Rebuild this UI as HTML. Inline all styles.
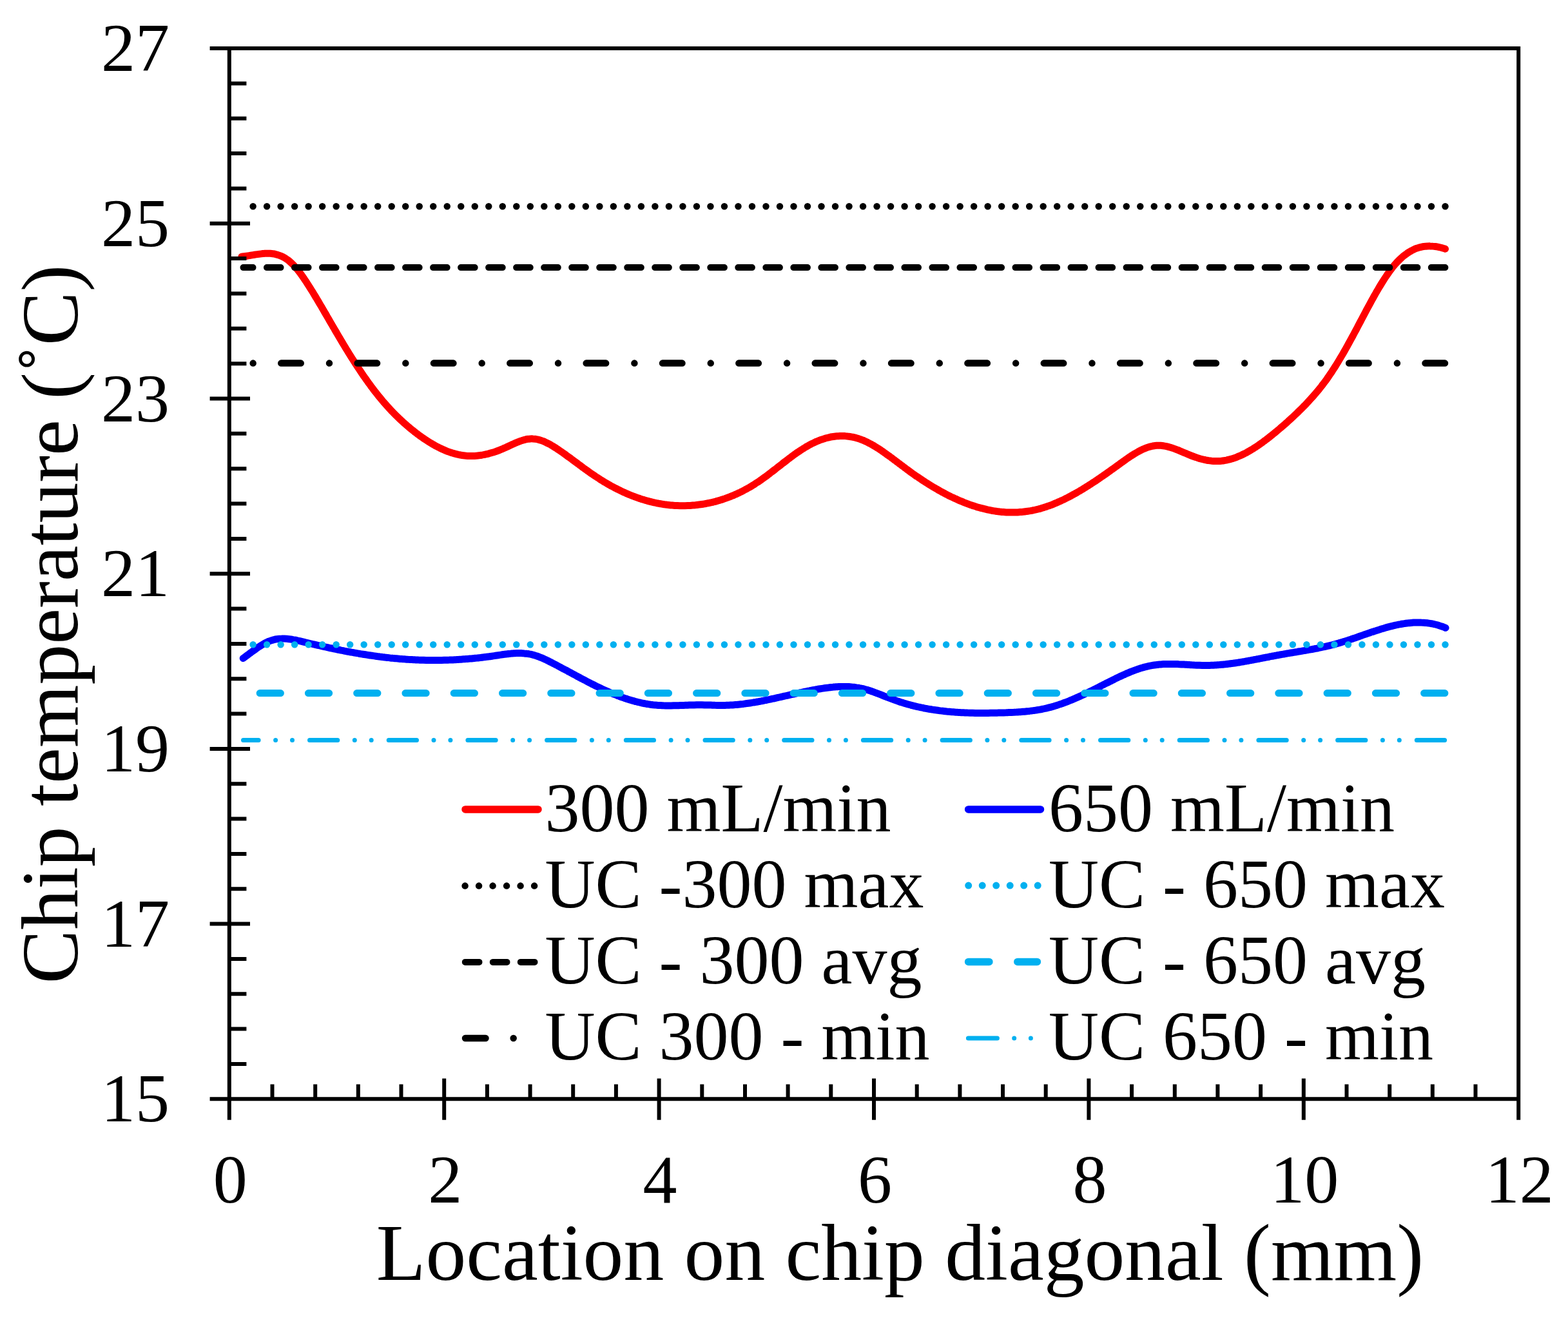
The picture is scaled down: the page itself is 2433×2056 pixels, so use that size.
<!DOCTYPE html><html><head><meta charset="utf-8"><style>html,body{margin:0;padding:0;background:#fff;}svg{display:block;}text{font-family:"Liberation Serif","Times New Roman",serif;fill:#000;}</style></head><body>
<svg width="2433" height="2056" viewBox="0 0 2433 2056">
<rect width="2433" height="2056" fill="#fff"/>
<path d="M375.0,398.1 C375.7,398.0 377.7,397.9 379.0,397.7 C380.3,397.6 381.7,397.4 383.0,397.2 C384.3,397.0 385.7,396.8 387.0,396.6 C388.3,396.4 389.7,396.2 391.0,395.9 C392.3,395.7 393.7,395.5 395.0,395.3 C396.3,395.1 397.7,394.8 399.0,394.6 C400.3,394.4 401.7,394.3 403.0,394.1 C404.3,393.9 405.7,393.8 407.0,393.6 C408.3,393.5 409.7,393.4 411.0,393.3 C412.3,393.3 413.7,393.2 415.0,393.2 C416.3,393.2 417.7,393.2 419.0,393.3 C420.3,393.4 421.7,393.5 423.0,393.7 C424.3,393.9 425.7,394.1 427.0,394.4 C428.3,394.7 429.7,395.0 431.0,395.4 C432.3,395.8 433.7,396.3 435.0,396.8 C436.3,397.3 437.7,397.9 439.0,398.6 C440.3,399.3 441.7,400.1 443.0,400.9 C444.3,401.8 445.7,402.7 447.0,403.7 C448.3,404.7 449.7,405.9 451.0,407.1 C452.3,408.3 453.7,409.6 455.0,410.9 C456.3,412.3 457.7,413.8 459.0,415.4 C460.3,416.9 461.7,418.5 463.0,420.2 C464.3,421.9 465.7,423.7 467.0,425.5 C468.3,427.3 469.7,429.2 471.0,431.2 C472.3,433.1 473.7,435.1 475.0,437.1 C476.3,439.1 477.7,441.2 479.0,443.3 C480.3,445.4 481.7,447.5 483.0,449.7 C484.3,451.8 485.7,454.0 487.0,456.2 C488.3,458.4 489.7,460.6 491.0,462.8 C492.3,465.1 493.7,467.3 495.0,469.6 C496.3,471.8 497.7,474.1 499.0,476.3 C500.3,478.6 501.7,480.9 503.0,483.2 C504.3,485.5 505.7,487.8 507.0,490.1 C508.3,492.4 509.7,494.7 511.0,497.0 C512.3,499.3 513.7,501.6 515.0,503.9 C516.3,506.2 517.7,508.5 519.0,510.7 C520.3,513.0 521.7,515.3 523.0,517.6 C524.3,519.9 525.7,522.1 527.0,524.4 C528.3,526.6 529.7,528.9 531.0,531.1 C532.3,533.3 533.7,535.6 535.0,537.8 C536.3,540.0 537.7,542.1 539.0,544.3 C540.3,546.5 541.7,548.6 543.0,550.8 C544.3,552.9 545.7,555.0 547.0,557.1 C548.3,559.2 549.7,561.3 551.0,563.4 C552.3,565.4 553.7,567.5 555.0,569.5 C556.3,571.5 557.7,573.5 559.0,575.5 C560.3,577.5 561.7,579.5 563.0,581.4 C564.3,583.4 565.7,585.3 567.0,587.2 C568.3,589.1 569.7,591.0 571.0,592.8 C572.3,594.7 573.7,596.5 575.0,598.3 C576.3,600.2 577.7,601.9 579.0,603.7 C580.3,605.5 581.7,607.2 583.0,608.9 C584.3,610.6 585.7,612.3 587.0,614.0 C588.3,615.6 589.7,617.2 591.0,618.8 C592.3,620.4 593.7,622.0 595.0,623.6 C596.3,625.1 597.7,626.7 599.0,628.2 C600.3,629.7 601.7,631.2 603.0,632.6 C604.3,634.1 605.7,635.5 607.0,636.9 C608.3,638.3 609.7,639.7 611.0,641.1 C612.3,642.4 613.7,643.8 615.0,645.1 C616.3,646.4 617.7,647.7 619.0,649.0 C620.3,650.2 621.7,651.5 623.0,652.7 C624.3,654.0 625.7,655.2 627.0,656.4 C628.3,657.6 629.7,658.7 631.0,659.9 C632.3,661.0 633.7,662.2 635.0,663.3 C636.3,664.4 637.7,665.5 639.0,666.6 C640.3,667.7 641.7,668.7 643.0,669.8 C644.3,670.8 645.7,671.8 647.0,672.8 C648.3,673.8 649.7,674.8 651.0,675.8 C652.3,676.8 653.7,677.7 655.0,678.7 C656.3,679.6 657.7,680.5 659.0,681.4 C660.3,682.3 661.7,683.2 663.0,684.1 C664.3,684.9 665.7,685.8 667.0,686.6 C668.3,687.4 669.7,688.2 671.0,689.0 C672.3,689.8 673.7,690.5 675.0,691.3 C676.3,692.0 677.7,692.7 679.0,693.4 C680.3,694.1 681.7,694.8 683.0,695.4 C684.3,696.1 685.7,696.7 687.0,697.3 C688.3,697.9 689.7,698.5 691.0,699.0 C692.3,699.6 693.7,700.1 695.0,700.6 C696.3,701.1 697.7,701.6 699.0,702.0 C700.3,702.5 701.7,702.9 703.0,703.3 C704.3,703.7 705.7,704.1 707.0,704.4 C708.3,704.7 709.7,705.1 711.0,705.4 C712.3,705.6 713.7,705.9 715.0,706.1 C716.3,706.4 717.7,706.6 719.0,706.7 C720.3,706.9 721.7,707.1 723.0,707.2 C724.3,707.3 725.7,707.4 727.0,707.4 C728.3,707.5 729.7,707.5 731.0,707.5 C732.3,707.5 733.7,707.5 735.0,707.4 C736.3,707.4 737.7,707.3 739.0,707.2 C740.3,707.1 741.7,707.0 743.0,706.8 C744.3,706.6 745.7,706.5 747.0,706.3 C748.3,706.0 749.7,705.8 751.0,705.6 C752.3,705.3 753.7,705.0 755.0,704.7 C756.3,704.4 757.7,704.1 759.0,703.7 C760.3,703.4 761.7,703.0 763.0,702.6 C764.3,702.2 765.7,701.8 767.0,701.4 C768.3,700.9 769.7,700.5 771.0,700.0 C772.3,699.5 773.7,699.0 775.0,698.5 C776.3,698.0 777.7,697.4 779.0,696.9 C780.3,696.3 781.7,695.7 783.0,695.1 C784.3,694.5 785.7,693.9 787.0,693.3 C788.3,692.7 789.7,692.1 791.0,691.4 C792.3,690.8 793.7,690.2 795.0,689.6 C796.3,689.0 797.7,688.4 799.0,687.8 C800.3,687.2 801.7,686.6 803.0,686.1 C804.3,685.5 805.7,685.0 807.0,684.5 C808.3,684.1 809.7,683.6 811.0,683.2 C812.3,682.8 813.7,682.4 815.0,682.1 C816.3,681.8 817.7,681.5 819.0,681.3 C820.3,681.1 821.7,681.0 823.0,680.9 C824.3,680.8 825.7,680.8 827.0,680.9 C828.3,680.9 829.7,681.1 831.0,681.3 C832.3,681.5 833.7,681.7 835.0,682.1 C836.3,682.4 837.7,682.8 839.0,683.2 C840.3,683.6 841.7,684.1 843.0,684.6 C844.3,685.2 845.7,685.8 847.0,686.4 C848.3,687.0 849.7,687.7 851.0,688.4 C852.3,689.1 853.7,689.8 855.0,690.6 C856.3,691.4 857.7,692.2 859.0,693.0 C860.3,693.8 861.7,694.7 863.0,695.5 C864.3,696.4 865.7,697.3 867.0,698.2 C868.3,699.1 869.7,700.0 871.0,701.0 C872.3,701.9 873.7,702.8 875.0,703.8 C876.3,704.7 877.7,705.7 879.0,706.7 C880.3,707.6 881.7,708.6 883.0,709.6 C884.3,710.5 885.7,711.5 887.0,712.5 C888.3,713.5 889.7,714.5 891.0,715.5 C892.3,716.4 893.7,717.4 895.0,718.4 C896.3,719.4 897.7,720.4 899.0,721.4 C900.3,722.4 901.7,723.3 903.0,724.3 C904.3,725.3 905.7,726.3 907.0,727.3 C908.3,728.2 909.7,729.2 911.0,730.1 C912.3,731.1 913.7,732.0 915.0,733.0 C916.3,733.9 917.7,734.9 919.0,735.8 C920.3,736.7 921.7,737.6 923.0,738.5 C924.3,739.4 925.7,740.3 927.0,741.1 C928.3,742.0 929.7,742.9 931.0,743.7 C932.3,744.6 933.7,745.4 935.0,746.2 C936.3,747.0 937.7,747.8 939.0,748.6 C940.3,749.4 941.7,750.2 943.0,751.0 C944.3,751.8 945.7,752.5 947.0,753.3 C948.3,754.0 949.7,754.7 951.0,755.4 C952.3,756.2 953.7,756.9 955.0,757.6 C956.3,758.2 957.7,758.9 959.0,759.6 C960.3,760.2 961.7,760.9 963.0,761.5 C964.3,762.2 965.7,762.8 967.0,763.4 C968.3,764.0 969.7,764.6 971.0,765.2 C972.3,765.8 973.7,766.4 975.0,766.9 C976.3,767.5 977.7,768.0 979.0,768.6 C980.3,769.1 981.7,769.6 983.0,770.1 C984.3,770.7 985.7,771.2 987.0,771.6 C988.3,772.1 989.7,772.6 991.0,773.0 C992.3,773.5 993.7,773.9 995.0,774.4 C996.3,774.8 997.7,775.2 999.0,775.6 C1000.3,776.0 1001.7,776.4 1003.0,776.8 C1004.3,777.2 1005.7,777.5 1007.0,777.9 C1008.3,778.2 1009.7,778.6 1011.0,778.9 C1012.3,779.2 1013.7,779.5 1015.0,779.8 C1016.3,780.1 1017.7,780.4 1019.0,780.7 C1020.3,780.9 1021.7,781.2 1023.0,781.5 C1024.3,781.7 1025.7,781.9 1027.0,782.1 C1028.3,782.4 1029.7,782.6 1031.0,782.8 C1032.3,782.9 1033.7,783.1 1035.0,783.3 C1036.3,783.4 1037.7,783.6 1039.0,783.7 C1040.3,783.9 1041.7,784.0 1043.0,784.1 C1044.3,784.2 1045.7,784.3 1047.0,784.4 C1048.3,784.5 1049.7,784.5 1051.0,784.6 C1052.3,784.7 1053.7,784.7 1055.0,784.7 C1056.3,784.8 1057.7,784.8 1059.0,784.8 C1060.3,784.8 1061.7,784.8 1063.0,784.7 C1064.3,784.7 1065.7,784.7 1067.0,784.6 C1068.3,784.6 1069.7,784.5 1071.0,784.4 C1072.3,784.3 1073.7,784.2 1075.0,784.1 C1076.3,784.0 1077.7,783.9 1079.0,783.8 C1080.3,783.6 1081.7,783.5 1083.0,783.3 C1084.3,783.2 1085.7,783.0 1087.0,782.8 C1088.3,782.6 1089.7,782.4 1091.0,782.2 C1092.3,782.0 1093.7,781.7 1095.0,781.5 C1096.3,781.3 1097.7,781.0 1099.0,780.7 C1100.3,780.5 1101.7,780.2 1103.0,779.9 C1104.3,779.6 1105.7,779.3 1107.0,778.9 C1108.3,778.6 1109.7,778.3 1111.0,777.9 C1112.3,777.5 1113.7,777.2 1115.0,776.8 C1116.3,776.4 1117.7,776.0 1119.0,775.6 C1120.3,775.2 1121.7,774.7 1123.0,774.3 C1124.3,773.8 1125.7,773.4 1127.0,772.9 C1128.3,772.4 1129.7,771.9 1131.0,771.4 C1132.3,770.9 1133.7,770.4 1135.0,769.8 C1136.3,769.3 1137.7,768.8 1139.0,768.2 C1140.3,767.6 1141.7,767.0 1143.0,766.4 C1144.3,765.8 1145.7,765.2 1147.0,764.6 C1148.3,763.9 1149.7,763.3 1151.0,762.6 C1152.3,761.9 1153.7,761.2 1155.0,760.5 C1156.3,759.8 1157.7,759.1 1159.0,758.4 C1160.3,757.6 1161.7,756.9 1163.0,756.1 C1164.3,755.3 1165.7,754.5 1167.0,753.7 C1168.3,752.9 1169.7,752.1 1171.0,751.2 C1172.3,750.4 1173.7,749.5 1175.0,748.6 C1176.3,747.8 1177.7,746.8 1179.0,745.9 C1180.3,745.0 1181.7,744.1 1183.0,743.1 C1184.3,742.2 1185.7,741.2 1187.0,740.2 C1188.3,739.3 1189.7,738.3 1191.0,737.3 C1192.3,736.3 1193.7,735.3 1195.0,734.2 C1196.3,733.2 1197.7,732.2 1199.0,731.2 C1200.3,730.1 1201.7,729.1 1203.0,728.1 C1204.3,727.0 1205.7,726.0 1207.0,724.9 C1208.3,723.9 1209.7,722.8 1211.0,721.8 C1212.3,720.8 1213.7,719.7 1215.0,718.7 C1216.3,717.6 1217.7,716.6 1219.0,715.6 C1220.3,714.6 1221.7,713.5 1223.0,712.5 C1224.3,711.5 1225.7,710.5 1227.0,709.5 C1228.3,708.5 1229.7,707.5 1231.0,706.5 C1232.3,705.6 1233.7,704.6 1235.0,703.7 C1236.3,702.7 1237.7,701.8 1239.0,700.9 C1240.3,700.0 1241.7,699.1 1243.0,698.2 C1244.3,697.3 1245.7,696.5 1247.0,695.7 C1248.3,694.8 1249.7,694.0 1251.0,693.2 C1252.3,692.5 1253.7,691.7 1255.0,691.0 C1256.3,690.2 1257.7,689.5 1259.0,688.8 C1260.3,688.2 1261.7,687.5 1263.0,686.9 C1264.3,686.3 1265.7,685.7 1267.0,685.1 C1268.3,684.5 1269.7,684.0 1271.0,683.4 C1272.3,682.9 1273.7,682.4 1275.0,682.0 C1276.3,681.5 1277.7,681.1 1279.0,680.7 C1280.3,680.3 1281.7,679.9 1283.0,679.5 C1284.3,679.2 1285.7,678.9 1287.0,678.6 C1288.3,678.3 1289.7,678.0 1291.0,677.8 C1292.3,677.6 1293.7,677.4 1295.0,677.2 C1296.3,677.0 1297.7,676.9 1299.0,676.8 C1300.3,676.7 1301.7,676.6 1303.0,676.5 C1304.3,676.5 1305.7,676.5 1307.0,676.5 C1308.3,676.5 1309.7,676.6 1311.0,676.6 C1312.3,676.7 1313.7,676.8 1315.0,677.0 C1316.3,677.1 1317.7,677.3 1319.0,677.5 C1320.3,677.7 1321.7,678.0 1323.0,678.2 C1324.3,678.5 1325.7,678.8 1327.0,679.1 C1328.3,679.5 1329.7,679.9 1331.0,680.3 C1332.3,680.7 1333.7,681.1 1335.0,681.6 C1336.3,682.1 1337.7,682.6 1339.0,683.1 C1340.3,683.7 1341.7,684.3 1343.0,684.9 C1344.3,685.5 1345.7,686.1 1347.0,686.8 C1348.3,687.5 1349.7,688.2 1351.0,688.9 C1352.3,689.6 1353.7,690.4 1355.0,691.2 C1356.3,691.9 1357.7,692.8 1359.0,693.6 C1360.3,694.4 1361.7,695.2 1363.0,696.1 C1364.3,697.0 1365.7,697.9 1367.0,698.8 C1368.3,699.7 1369.7,700.6 1371.0,701.5 C1372.3,702.4 1373.7,703.4 1375.0,704.3 C1376.3,705.3 1377.7,706.3 1379.0,707.2 C1380.3,708.2 1381.7,709.2 1383.0,710.2 C1384.3,711.2 1385.7,712.2 1387.0,713.2 C1388.3,714.2 1389.7,715.2 1391.0,716.2 C1392.3,717.2 1393.7,718.2 1395.0,719.2 C1396.3,720.2 1397.7,721.2 1399.0,722.2 C1400.3,723.2 1401.7,724.2 1403.0,725.2 C1404.3,726.2 1405.7,727.2 1407.0,728.2 C1408.3,729.2 1409.7,730.2 1411.0,731.1 C1412.3,732.1 1413.7,733.1 1415.0,734.0 C1416.3,735.0 1417.7,735.9 1419.0,736.8 C1420.3,737.8 1421.7,738.7 1423.0,739.6 C1424.3,740.5 1425.7,741.4 1427.0,742.3 C1428.3,743.2 1429.7,744.1 1431.0,745.0 C1432.3,745.8 1433.7,746.7 1435.0,747.6 C1436.3,748.4 1437.7,749.3 1439.0,750.1 C1440.3,751.0 1441.7,751.8 1443.0,752.6 C1444.3,753.4 1445.7,754.3 1447.0,755.1 C1448.3,755.9 1449.7,756.7 1451.0,757.4 C1452.3,758.2 1453.7,759.0 1455.0,759.7 C1456.3,760.5 1457.7,761.3 1459.0,762.0 C1460.3,762.7 1461.7,763.5 1463.0,764.2 C1464.3,764.9 1465.7,765.6 1467.0,766.3 C1468.3,767.0 1469.7,767.7 1471.0,768.4 C1472.3,769.0 1473.7,769.7 1475.0,770.4 C1476.3,771.0 1477.7,771.7 1479.0,772.3 C1480.3,772.9 1481.7,773.5 1483.0,774.1 C1484.3,774.7 1485.7,775.3 1487.0,775.9 C1488.3,776.5 1489.7,777.1 1491.0,777.6 C1492.3,778.2 1493.7,778.7 1495.0,779.3 C1496.3,779.8 1497.7,780.3 1499.0,780.8 C1500.3,781.4 1501.7,781.9 1503.0,782.3 C1504.3,782.8 1505.7,783.3 1507.0,783.8 C1508.3,784.2 1509.7,784.7 1511.0,785.1 C1512.3,785.5 1513.7,785.9 1515.0,786.4 C1516.3,786.8 1517.7,787.2 1519.0,787.5 C1520.3,787.9 1521.7,788.3 1523.0,788.6 C1524.3,789.0 1525.7,789.3 1527.0,789.6 C1528.3,790.0 1529.7,790.3 1531.0,790.6 C1532.3,790.9 1533.7,791.2 1535.0,791.4 C1536.3,791.7 1537.7,792.0 1539.0,792.2 C1540.3,792.4 1541.7,792.7 1543.0,792.9 C1544.3,793.1 1545.7,793.3 1547.0,793.5 C1548.3,793.6 1549.7,793.8 1551.0,794.0 C1552.3,794.1 1553.7,794.3 1555.0,794.4 C1556.3,794.5 1557.7,794.6 1559.0,794.7 C1560.3,794.8 1561.7,794.9 1563.0,794.9 C1564.3,795.0 1565.7,795.0 1567.0,795.1 C1568.3,795.1 1569.7,795.1 1571.0,795.1 C1572.3,795.1 1573.7,795.1 1575.0,795.0 C1576.3,795.0 1577.7,794.9 1579.0,794.9 C1580.3,794.8 1581.7,794.7 1583.0,794.6 C1584.3,794.5 1585.7,794.4 1587.0,794.3 C1588.3,794.1 1589.7,794.0 1591.0,793.8 C1592.3,793.7 1593.7,793.5 1595.0,793.3 C1596.3,793.1 1597.7,792.8 1599.0,792.6 C1600.3,792.4 1601.7,792.1 1603.0,791.8 C1604.3,791.6 1605.7,791.3 1607.0,791.0 C1608.3,790.7 1609.7,790.3 1611.0,790.0 C1612.3,789.7 1613.7,789.3 1615.0,788.9 C1616.3,788.5 1617.7,788.1 1619.0,787.7 C1620.3,787.3 1621.7,786.9 1623.0,786.5 C1624.3,786.0 1625.7,785.5 1627.0,785.1 C1628.3,784.6 1629.7,784.1 1631.0,783.6 C1632.3,783.1 1633.7,782.6 1635.0,782.0 C1636.3,781.5 1637.7,780.9 1639.0,780.4 C1640.3,779.8 1641.7,779.2 1643.0,778.6 C1644.3,778.0 1645.7,777.4 1647.0,776.8 C1648.3,776.2 1649.7,775.5 1651.0,774.9 C1652.3,774.3 1653.7,773.6 1655.0,772.9 C1656.3,772.2 1657.7,771.6 1659.0,770.9 C1660.3,770.2 1661.7,769.5 1663.0,768.7 C1664.3,768.0 1665.7,767.3 1667.0,766.5 C1668.3,765.8 1669.7,765.0 1671.0,764.3 C1672.3,763.5 1673.7,762.7 1675.0,762.0 C1676.3,761.2 1677.7,760.4 1679.0,759.6 C1680.3,758.8 1681.7,758.0 1683.0,757.1 C1684.3,756.3 1685.7,755.5 1687.0,754.6 C1688.3,753.8 1689.7,753.0 1691.0,752.1 C1692.3,751.2 1693.7,750.4 1695.0,749.5 C1696.3,748.6 1697.7,747.8 1699.0,746.9 C1700.3,746.0 1701.7,745.1 1703.0,744.2 C1704.3,743.3 1705.7,742.4 1707.0,741.5 C1708.3,740.6 1709.7,739.6 1711.0,738.7 C1712.3,737.8 1713.7,736.9 1715.0,735.9 C1716.3,735.0 1717.7,734.1 1719.0,733.1 C1720.3,732.2 1721.7,731.2 1723.0,730.3 C1724.3,729.3 1725.7,728.4 1727.0,727.4 C1728.3,726.4 1729.7,725.5 1731.0,724.5 C1732.3,723.6 1733.7,722.6 1735.0,721.6 C1736.3,720.6 1737.7,719.7 1739.0,718.7 C1740.3,717.7 1741.7,716.8 1743.0,715.8 C1744.3,714.9 1745.7,713.9 1747.0,713.0 C1748.3,712.0 1749.7,711.1 1751.0,710.2 C1752.3,709.3 1753.7,708.4 1755.0,707.5 C1756.3,706.7 1757.7,705.8 1759.0,705.0 C1760.3,704.2 1761.7,703.4 1763.0,702.6 C1764.3,701.8 1765.7,701.1 1767.0,700.3 C1768.3,699.6 1769.7,698.9 1771.0,698.3 C1772.3,697.6 1773.7,697.0 1775.0,696.4 C1776.3,695.9 1777.7,695.3 1779.0,694.8 C1780.3,694.4 1781.7,693.9 1783.0,693.5 C1784.3,693.1 1785.7,692.8 1787.0,692.5 C1788.3,692.2 1789.7,691.9 1791.0,691.7 C1792.3,691.5 1793.7,691.4 1795.0,691.3 C1796.3,691.2 1797.7,691.2 1799.0,691.2 C1800.3,691.3 1801.7,691.4 1803.0,691.5 C1804.3,691.7 1805.7,691.9 1807.0,692.1 C1808.3,692.3 1809.7,692.6 1811.0,692.9 C1812.3,693.2 1813.7,693.6 1815.0,694.0 C1816.3,694.4 1817.7,694.8 1819.0,695.2 C1820.3,695.7 1821.7,696.1 1823.0,696.6 C1824.3,697.1 1825.7,697.6 1827.0,698.1 C1828.3,698.7 1829.7,699.2 1831.0,699.8 C1832.3,700.3 1833.7,700.9 1835.0,701.4 C1836.3,702.0 1837.7,702.6 1839.0,703.1 C1840.3,703.7 1841.7,704.3 1843.0,704.8 C1844.3,705.4 1845.7,705.9 1847.0,706.5 C1848.3,707.0 1849.7,707.5 1851.0,708.0 C1852.3,708.5 1853.7,709.0 1855.0,709.4 C1856.3,709.9 1857.7,710.3 1859.0,710.8 C1860.3,711.2 1861.7,711.6 1863.0,712.0 C1864.3,712.3 1865.7,712.7 1867.0,713.0 C1868.3,713.3 1869.7,713.6 1871.0,713.9 C1872.3,714.1 1873.7,714.4 1875.0,714.6 C1876.3,714.8 1877.7,715.0 1879.0,715.1 C1880.3,715.3 1881.7,715.4 1883.0,715.5 C1884.3,715.6 1885.7,715.6 1887.0,715.6 C1888.3,715.6 1889.7,715.6 1891.0,715.6 C1892.3,715.5 1893.7,715.4 1895.0,715.3 C1896.3,715.1 1897.7,715.0 1899.0,714.8 C1900.3,714.6 1901.7,714.3 1903.0,714.1 C1904.3,713.8 1905.7,713.5 1907.0,713.1 C1908.3,712.8 1909.7,712.4 1911.0,712.0 C1912.3,711.6 1913.7,711.2 1915.0,710.8 C1916.3,710.3 1917.7,709.8 1919.0,709.3 C1920.3,708.8 1921.7,708.2 1923.0,707.6 C1924.3,707.1 1925.7,706.5 1927.0,705.8 C1928.3,705.2 1929.7,704.6 1931.0,703.9 C1932.3,703.2 1933.7,702.5 1935.0,701.8 C1936.3,701.0 1937.7,700.3 1939.0,699.5 C1940.3,698.7 1941.7,697.9 1943.0,697.1 C1944.3,696.3 1945.7,695.5 1947.0,694.6 C1948.3,693.7 1949.7,692.9 1951.0,692.0 C1952.3,691.1 1953.7,690.2 1955.0,689.2 C1956.3,688.3 1957.7,687.3 1959.0,686.4 C1960.3,685.4 1961.7,684.4 1963.0,683.4 C1964.3,682.4 1965.7,681.4 1967.0,680.4 C1968.3,679.3 1969.7,678.3 1971.0,677.2 C1972.3,676.2 1973.7,675.1 1975.0,674.0 C1976.3,673.0 1977.7,671.9 1979.0,670.8 C1980.3,669.7 1981.7,668.5 1983.0,667.4 C1984.3,666.3 1985.7,665.2 1987.0,664.0 C1988.3,662.9 1989.7,661.7 1991.0,660.6 C1992.3,659.4 1993.7,658.3 1995.0,657.1 C1996.3,655.9 1997.7,654.7 1999.0,653.5 C2000.3,652.3 2001.7,651.1 2003.0,649.9 C2004.3,648.7 2005.7,647.4 2007.0,646.2 C2008.3,644.9 2009.7,643.7 2011.0,642.4 C2012.3,641.1 2013.7,639.8 2015.0,638.5 C2016.3,637.2 2017.7,635.9 2019.0,634.6 C2020.3,633.3 2021.7,631.9 2023.0,630.5 C2024.3,629.2 2025.7,627.8 2027.0,626.4 C2028.3,625.0 2029.7,623.6 2031.0,622.1 C2032.3,620.7 2033.7,619.2 2035.0,617.7 C2036.3,616.3 2037.7,614.8 2039.0,613.2 C2040.3,611.7 2041.7,610.1 2043.0,608.5 C2044.3,607.0 2045.7,605.3 2047.0,603.7 C2048.3,602.0 2049.7,600.4 2051.0,598.6 C2052.3,596.9 2053.7,595.2 2055.0,593.4 C2056.3,591.6 2057.7,589.7 2059.0,587.9 C2060.3,586.0 2061.7,584.1 2063.0,582.1 C2064.3,580.2 2065.7,578.2 2067.0,576.2 C2068.3,574.1 2069.7,572.1 2071.0,570.0 C2072.3,567.9 2073.7,565.7 2075.0,563.5 C2076.3,561.4 2077.7,559.2 2079.0,556.9 C2080.3,554.7 2081.7,552.4 2083.0,550.2 C2084.3,547.9 2085.7,545.5 2087.0,543.2 C2088.3,540.9 2089.7,538.5 2091.0,536.1 C2092.3,533.7 2093.7,531.3 2095.0,528.8 C2096.3,526.4 2097.7,523.9 2099.0,521.5 C2100.3,519.0 2101.7,516.5 2103.0,514.0 C2104.3,511.5 2105.7,509.0 2107.0,506.4 C2108.3,503.9 2109.7,501.4 2111.0,498.9 C2112.3,496.3 2113.7,493.8 2115.0,491.3 C2116.3,488.8 2117.7,486.2 2119.0,483.7 C2120.3,481.2 2121.7,478.7 2123.0,476.2 C2124.3,473.8 2125.7,471.3 2127.0,468.9 C2128.3,466.4 2129.7,464.0 2131.0,461.6 C2132.3,459.2 2133.7,456.9 2135.0,454.5 C2136.3,452.2 2137.7,449.9 2139.0,447.6 C2140.3,445.4 2141.7,443.1 2143.0,441.0 C2144.3,438.8 2145.7,436.7 2147.0,434.6 C2148.3,432.5 2149.7,430.4 2151.0,428.5 C2152.3,426.5 2153.7,424.5 2155.0,422.7 C2156.3,420.8 2157.7,419.0 2159.0,417.3 C2160.3,415.5 2161.7,413.8 2163.0,412.2 C2164.3,410.6 2165.7,409.1 2167.0,407.6 C2168.3,406.2 2169.7,404.8 2171.0,403.5 C2172.3,402.1 2173.7,400.9 2175.0,399.7 C2176.3,398.5 2177.7,397.4 2179.0,396.3 C2180.3,395.3 2181.7,394.3 2183.0,393.4 C2184.3,392.4 2185.7,391.6 2187.0,390.8 C2188.3,389.9 2189.7,389.2 2191.0,388.5 C2192.3,387.8 2193.7,387.2 2195.0,386.6 C2196.3,386.0 2197.7,385.5 2199.0,385.1 C2200.3,384.6 2201.7,384.2 2203.0,383.8 C2204.3,383.5 2205.7,383.2 2207.0,382.9 C2208.3,382.6 2209.7,382.4 2211.0,382.3 C2212.3,382.1 2213.7,382.0 2215.0,381.9 C2216.3,381.9 2217.7,381.8 2219.0,381.9 C2220.3,381.9 2221.7,381.9 2223.0,382.1 C2224.3,382.2 2225.7,382.3 2227.0,382.5 C2228.3,382.7 2229.7,382.9 2231.0,383.1 C2232.3,383.4 2233.7,383.7 2235.0,384.0 C2236.3,384.4 2237.8,384.8 2239.0,385.1 C2240.2,385.5 2241.9,386.0 2242.5,386.2" fill="none" stroke="#ff0000" stroke-width="11" stroke-linecap="round" stroke-linejoin="round"/>
<path d="M377.2,1021.5 C377.9,1021.0 379.9,1019.6 381.2,1018.6 C382.5,1017.7 383.9,1016.7 385.2,1015.7 C386.5,1014.7 387.9,1013.7 389.2,1012.7 C390.5,1011.7 391.9,1010.7 393.2,1009.7 C394.5,1008.8 395.9,1007.8 397.2,1006.8 C398.5,1005.9 399.9,1005.0 401.2,1004.1 C402.5,1003.2 403.9,1002.3 405.2,1001.5 C406.5,1000.6 407.9,999.8 409.2,999.1 C410.5,998.3 411.9,997.6 413.2,996.9 C414.5,996.3 415.9,995.7 417.2,995.1 C418.5,994.6 419.9,994.1 421.2,993.7 C422.5,993.3 423.9,992.9 425.2,992.6 C426.5,992.3 427.9,992.0 429.2,991.8 C430.5,991.6 431.9,991.4 433.2,991.3 C434.5,991.2 435.9,991.1 437.2,991.1 C438.5,991.0 439.9,991.1 441.2,991.1 C442.5,991.1 443.9,991.2 445.2,991.3 C446.5,991.4 447.9,991.6 449.2,991.7 C450.5,991.9 451.9,992.1 453.2,992.3 C454.5,992.5 455.9,992.7 457.2,993.0 C458.5,993.2 459.9,993.5 461.2,993.8 C462.5,994.1 463.9,994.4 465.2,994.7 C466.5,995.0 467.9,995.3 469.2,995.6 C470.5,995.9 471.9,996.3 473.2,996.6 C474.5,996.9 475.9,997.2 477.2,997.6 C478.5,997.9 479.9,998.2 481.2,998.5 C482.5,998.8 483.9,999.2 485.2,999.5 C486.5,999.8 487.9,1000.1 489.2,1000.4 C490.5,1000.7 491.9,1001.0 493.2,1001.3 C494.5,1001.6 495.9,1001.9 497.2,1002.2 C498.5,1002.5 499.9,1002.8 501.2,1003.1 C502.5,1003.4 503.9,1003.7 505.2,1004.0 C506.5,1004.3 507.9,1004.6 509.2,1004.9 C510.5,1005.2 511.9,1005.5 513.2,1005.8 C514.5,1006.0 515.9,1006.3 517.2,1006.6 C518.5,1006.9 519.9,1007.2 521.2,1007.4 C522.5,1007.7 523.9,1008.0 525.2,1008.3 C526.5,1008.5 527.9,1008.8 529.2,1009.1 C530.5,1009.3 531.9,1009.6 533.2,1009.8 C534.5,1010.1 535.9,1010.4 537.2,1010.6 C538.5,1010.9 539.9,1011.1 541.2,1011.4 C542.5,1011.6 543.9,1011.9 545.2,1012.1 C546.5,1012.3 547.9,1012.6 549.2,1012.8 C550.5,1013.1 551.9,1013.3 553.2,1013.5 C554.5,1013.8 555.9,1014.0 557.2,1014.2 C558.5,1014.4 559.9,1014.7 561.2,1014.9 C562.5,1015.1 563.9,1015.3 565.2,1015.5 C566.5,1015.7 567.9,1015.9 569.2,1016.1 C570.5,1016.4 571.9,1016.6 573.2,1016.8 C574.5,1017.0 575.9,1017.1 577.2,1017.3 C578.5,1017.5 579.9,1017.7 581.2,1017.9 C582.5,1018.1 583.9,1018.3 585.2,1018.5 C586.5,1018.6 587.9,1018.8 589.2,1019.0 C590.5,1019.1 591.9,1019.3 593.2,1019.5 C594.5,1019.6 595.9,1019.8 597.2,1020.0 C598.5,1020.1 599.9,1020.3 601.2,1020.4 C602.5,1020.6 603.9,1020.7 605.2,1020.9 C606.5,1021.0 607.9,1021.1 609.2,1021.3 C610.5,1021.4 611.9,1021.5 613.2,1021.7 C614.5,1021.8 615.9,1021.9 617.2,1022.0 C618.5,1022.1 619.9,1022.3 621.2,1022.4 C622.5,1022.5 623.9,1022.6 625.2,1022.7 C626.5,1022.8 627.9,1022.9 629.2,1023.0 C630.5,1023.1 631.9,1023.2 633.2,1023.3 C634.5,1023.3 635.9,1023.4 637.2,1023.5 C638.5,1023.6 639.9,1023.6 641.2,1023.7 C642.5,1023.8 643.9,1023.8 645.2,1023.9 C646.5,1024.0 647.9,1024.0 649.2,1024.1 C650.5,1024.1 651.9,1024.2 653.2,1024.2 C654.5,1024.3 655.9,1024.3 657.2,1024.3 C658.5,1024.4 659.9,1024.4 661.2,1024.4 C662.5,1024.4 663.9,1024.5 665.2,1024.5 C666.5,1024.5 667.9,1024.5 669.2,1024.5 C670.5,1024.5 671.9,1024.5 673.2,1024.5 C674.5,1024.5 675.9,1024.5 677.2,1024.5 C678.5,1024.5 679.9,1024.5 681.2,1024.5 C682.5,1024.5 683.9,1024.5 685.2,1024.4 C686.5,1024.4 687.9,1024.4 689.2,1024.3 C690.5,1024.3 691.9,1024.3 693.2,1024.2 C694.5,1024.2 695.9,1024.1 697.2,1024.1 C698.5,1024.0 699.9,1024.0 701.2,1023.9 C702.5,1023.9 703.9,1023.8 705.2,1023.7 C706.5,1023.7 707.9,1023.6 709.2,1023.5 C710.5,1023.5 711.9,1023.4 713.2,1023.3 C714.5,1023.2 715.9,1023.1 717.2,1023.0 C718.5,1022.9 719.9,1022.8 721.2,1022.7 C722.5,1022.6 723.9,1022.5 725.2,1022.4 C726.5,1022.3 727.9,1022.2 729.2,1022.1 C730.5,1022.0 731.9,1021.9 733.2,1021.7 C734.5,1021.6 735.9,1021.5 737.2,1021.3 C738.5,1021.2 739.9,1021.1 741.2,1020.9 C742.5,1020.8 743.9,1020.6 745.2,1020.5 C746.5,1020.3 747.9,1020.2 749.2,1020.0 C750.5,1019.9 751.9,1019.7 753.2,1019.5 C754.5,1019.4 755.9,1019.2 757.2,1019.0 C758.5,1018.8 759.9,1018.7 761.2,1018.5 C762.5,1018.3 763.9,1018.1 765.2,1017.9 C766.5,1017.7 767.9,1017.5 769.2,1017.3 C770.5,1017.1 771.9,1016.9 773.2,1016.7 C774.5,1016.5 775.9,1016.3 777.2,1016.1 C778.5,1015.9 779.9,1015.7 781.2,1015.5 C782.5,1015.4 783.9,1015.2 785.2,1015.0 C786.5,1014.8 787.9,1014.7 789.2,1014.5 C790.5,1014.4 791.9,1014.3 793.2,1014.1 C794.5,1014.0 795.9,1013.9 797.2,1013.8 C798.5,1013.7 799.9,1013.7 801.2,1013.6 C802.5,1013.6 803.9,1013.6 805.2,1013.6 C806.5,1013.6 807.9,1013.6 809.2,1013.6 C810.5,1013.7 811.9,1013.7 813.2,1013.9 C814.5,1014.0 815.9,1014.1 817.2,1014.3 C818.5,1014.4 819.9,1014.6 821.2,1014.9 C822.5,1015.1 823.9,1015.4 825.2,1015.7 C826.5,1016.0 827.9,1016.3 829.2,1016.7 C830.5,1017.1 831.9,1017.5 833.2,1018.0 C834.5,1018.5 835.9,1018.9 837.2,1019.5 C838.5,1020.0 839.9,1020.5 841.2,1021.1 C842.5,1021.7 843.9,1022.3 845.2,1022.9 C846.5,1023.5 847.9,1024.1 849.2,1024.8 C850.5,1025.4 851.9,1026.1 853.2,1026.8 C854.5,1027.5 855.9,1028.1 857.2,1028.8 C858.5,1029.5 859.9,1030.2 861.2,1030.9 C862.5,1031.6 863.9,1032.3 865.2,1033.0 C866.5,1033.7 867.9,1034.4 869.2,1035.1 C870.5,1035.8 871.9,1036.6 873.2,1037.3 C874.5,1038.0 875.9,1038.7 877.2,1039.4 C878.5,1040.1 879.9,1040.8 881.2,1041.6 C882.5,1042.3 883.9,1043.0 885.2,1043.7 C886.5,1044.4 887.9,1045.2 889.2,1045.9 C890.5,1046.6 891.9,1047.3 893.2,1048.0 C894.5,1048.7 895.9,1049.5 897.2,1050.2 C898.5,1050.9 899.9,1051.6 901.2,1052.3 C902.5,1053.0 903.9,1053.7 905.2,1054.4 C906.5,1055.1 907.9,1055.8 909.2,1056.5 C910.5,1057.2 911.9,1057.9 913.2,1058.6 C914.5,1059.3 915.9,1060.0 917.2,1060.7 C918.5,1061.3 919.9,1062.0 921.2,1062.7 C922.5,1063.4 923.9,1064.0 925.2,1064.7 C926.5,1065.3 927.9,1066.0 929.2,1066.6 C930.5,1067.3 931.9,1067.9 933.2,1068.5 C934.5,1069.2 935.9,1069.8 937.2,1070.4 C938.5,1071.0 939.9,1071.6 941.2,1072.2 C942.5,1072.8 943.9,1073.4 945.2,1074.0 C946.5,1074.6 947.9,1075.1 949.2,1075.7 C950.5,1076.3 951.9,1076.8 953.2,1077.4 C954.5,1077.9 955.9,1078.4 957.2,1078.9 C958.5,1079.5 959.9,1080.0 961.2,1080.5 C962.5,1081.0 963.9,1081.5 965.2,1082.0 C966.5,1082.4 967.9,1082.9 969.2,1083.4 C970.5,1083.8 971.9,1084.3 973.2,1084.7 C974.5,1085.1 975.9,1085.6 977.2,1086.0 C978.5,1086.4 979.9,1086.8 981.2,1087.2 C982.5,1087.5 983.9,1087.9 985.2,1088.3 C986.5,1088.6 987.9,1089.0 989.2,1089.3 C990.5,1089.6 991.9,1089.9 993.2,1090.2 C994.5,1090.6 995.9,1090.8 997.2,1091.1 C998.5,1091.4 999.9,1091.6 1001.2,1091.9 C1002.5,1092.1 1003.9,1092.4 1005.2,1092.6 C1006.5,1092.8 1007.9,1093.0 1009.2,1093.2 C1010.5,1093.3 1011.9,1093.5 1013.2,1093.7 C1014.5,1093.8 1015.9,1093.9 1017.2,1094.1 C1018.5,1094.2 1019.9,1094.3 1021.2,1094.4 C1022.5,1094.5 1023.9,1094.5 1025.2,1094.6 C1026.5,1094.7 1027.9,1094.7 1029.2,1094.8 C1030.5,1094.8 1031.9,1094.8 1033.2,1094.9 C1034.5,1094.9 1035.9,1094.9 1037.2,1094.9 C1038.5,1094.9 1039.9,1094.9 1041.2,1094.9 C1042.5,1094.9 1043.9,1094.9 1045.2,1094.8 C1046.5,1094.8 1047.9,1094.8 1049.2,1094.8 C1050.5,1094.7 1051.9,1094.7 1053.2,1094.7 C1054.5,1094.6 1055.9,1094.6 1057.2,1094.5 C1058.5,1094.5 1059.9,1094.4 1061.2,1094.4 C1062.5,1094.4 1063.9,1094.3 1065.2,1094.3 C1066.5,1094.2 1067.9,1094.2 1069.2,1094.1 C1070.5,1094.1 1071.9,1094.1 1073.2,1094.0 C1074.5,1094.0 1075.9,1093.9 1077.2,1093.9 C1078.5,1093.9 1079.9,1093.9 1081.2,1093.8 C1082.5,1093.8 1083.9,1093.8 1085.2,1093.8 C1086.5,1093.8 1087.9,1093.8 1089.2,1093.8 C1090.5,1093.8 1091.9,1093.8 1093.2,1093.9 C1094.5,1093.9 1095.9,1093.9 1097.2,1093.9 C1098.5,1094.0 1099.9,1094.0 1101.2,1094.0 C1102.5,1094.1 1103.9,1094.1 1105.2,1094.2 C1106.5,1094.2 1107.9,1094.2 1109.2,1094.3 C1110.5,1094.3 1111.9,1094.3 1113.2,1094.4 C1114.5,1094.4 1115.9,1094.4 1117.2,1094.4 C1118.5,1094.4 1119.9,1094.4 1121.2,1094.4 C1122.5,1094.4 1123.9,1094.4 1125.2,1094.4 C1126.5,1094.4 1127.9,1094.3 1129.2,1094.3 C1130.5,1094.2 1131.9,1094.2 1133.2,1094.1 C1134.5,1094.1 1135.9,1094.0 1137.2,1093.9 C1138.5,1093.8 1139.9,1093.7 1141.2,1093.6 C1142.5,1093.5 1143.9,1093.4 1145.2,1093.2 C1146.5,1093.1 1147.9,1093.0 1149.2,1092.8 C1150.5,1092.7 1151.9,1092.5 1153.2,1092.4 C1154.5,1092.2 1155.9,1092.0 1157.2,1091.8 C1158.5,1091.7 1159.9,1091.5 1161.2,1091.3 C1162.5,1091.1 1163.9,1090.9 1165.2,1090.7 C1166.5,1090.5 1167.9,1090.3 1169.2,1090.0 C1170.5,1089.8 1171.9,1089.6 1173.2,1089.4 C1174.5,1089.1 1175.9,1088.9 1177.2,1088.6 C1178.5,1088.4 1179.9,1088.1 1181.2,1087.9 C1182.5,1087.6 1183.9,1087.4 1185.2,1087.1 C1186.5,1086.8 1187.9,1086.6 1189.2,1086.3 C1190.5,1086.0 1191.9,1085.8 1193.2,1085.5 C1194.5,1085.2 1195.9,1084.9 1197.2,1084.6 C1198.5,1084.3 1199.9,1084.1 1201.2,1083.8 C1202.5,1083.5 1203.9,1083.2 1205.2,1082.9 C1206.5,1082.6 1207.9,1082.3 1209.2,1082.0 C1210.5,1081.7 1211.9,1081.4 1213.2,1081.1 C1214.5,1080.8 1215.9,1080.5 1217.2,1080.2 C1218.5,1079.9 1219.9,1079.6 1221.2,1079.3 C1222.5,1079.0 1223.9,1078.7 1225.2,1078.4 C1226.5,1078.1 1227.9,1077.8 1229.2,1077.5 C1230.5,1077.2 1231.9,1076.9 1233.2,1076.6 C1234.5,1076.3 1235.9,1076.0 1237.2,1075.7 C1238.5,1075.4 1239.9,1075.1 1241.2,1074.8 C1242.5,1074.6 1243.9,1074.3 1245.2,1074.0 C1246.5,1073.7 1247.9,1073.4 1249.2,1073.1 C1250.5,1072.9 1251.9,1072.6 1253.2,1072.3 C1254.5,1072.1 1255.9,1071.8 1257.2,1071.5 C1258.5,1071.3 1259.9,1071.0 1261.2,1070.8 C1262.5,1070.5 1263.9,1070.3 1265.2,1070.0 C1266.5,1069.8 1267.9,1069.6 1269.2,1069.3 C1270.5,1069.1 1271.9,1068.9 1273.2,1068.7 C1274.5,1068.5 1275.9,1068.3 1277.2,1068.1 C1278.5,1067.9 1279.9,1067.7 1281.2,1067.5 C1282.5,1067.3 1283.9,1067.1 1285.2,1067.0 C1286.5,1066.8 1287.9,1066.7 1289.2,1066.5 C1290.5,1066.4 1291.9,1066.3 1293.2,1066.1 C1294.5,1066.0 1295.9,1065.9 1297.2,1065.8 C1298.5,1065.7 1299.9,1065.7 1301.2,1065.6 C1302.5,1065.5 1303.9,1065.5 1305.2,1065.5 C1306.5,1065.4 1307.9,1065.4 1309.2,1065.4 C1310.5,1065.4 1311.9,1065.4 1313.2,1065.5 C1314.5,1065.5 1315.9,1065.6 1317.2,1065.6 C1318.5,1065.7 1319.9,1065.8 1321.2,1065.9 C1322.5,1066.0 1323.9,1066.2 1325.2,1066.3 C1326.5,1066.5 1327.9,1066.7 1329.2,1066.9 C1330.5,1067.0 1331.9,1067.3 1333.2,1067.5 C1334.5,1067.8 1335.9,1068.0 1337.2,1068.3 C1338.5,1068.6 1339.9,1068.9 1341.2,1069.3 C1342.5,1069.6 1343.9,1070.0 1345.2,1070.4 C1346.5,1070.7 1347.9,1071.2 1349.2,1071.6 C1350.5,1072.0 1351.9,1072.5 1353.2,1072.9 C1354.5,1073.4 1355.9,1073.9 1357.2,1074.4 C1358.5,1074.8 1359.9,1075.3 1361.2,1075.9 C1362.5,1076.4 1363.9,1076.9 1365.2,1077.4 C1366.5,1077.9 1367.9,1078.5 1369.2,1079.0 C1370.5,1079.5 1371.9,1080.1 1373.2,1080.6 C1374.5,1081.1 1375.9,1081.7 1377.2,1082.2 C1378.5,1082.7 1379.9,1083.2 1381.2,1083.7 C1382.5,1084.2 1383.9,1084.7 1385.2,1085.2 C1386.5,1085.7 1387.9,1086.2 1389.2,1086.7 C1390.5,1087.2 1391.9,1087.6 1393.2,1088.1 C1394.5,1088.5 1395.9,1089.0 1397.2,1089.4 C1398.5,1089.8 1399.9,1090.2 1401.2,1090.6 C1402.5,1091.1 1403.9,1091.5 1405.2,1091.8 C1406.5,1092.2 1407.9,1092.6 1409.2,1093.0 C1410.5,1093.4 1411.9,1093.7 1413.2,1094.1 C1414.5,1094.4 1415.9,1094.8 1417.2,1095.1 C1418.5,1095.4 1419.9,1095.8 1421.2,1096.1 C1422.5,1096.4 1423.9,1096.7 1425.2,1097.0 C1426.5,1097.3 1427.9,1097.6 1429.2,1097.9 C1430.5,1098.1 1431.9,1098.4 1433.2,1098.7 C1434.5,1098.9 1435.9,1099.2 1437.2,1099.4 C1438.5,1099.7 1439.9,1099.9 1441.2,1100.2 C1442.5,1100.4 1443.9,1100.6 1445.2,1100.8 C1446.5,1101.1 1447.9,1101.3 1449.2,1101.5 C1450.5,1101.7 1451.9,1101.9 1453.2,1102.0 C1454.5,1102.2 1455.9,1102.4 1457.2,1102.6 C1458.5,1102.8 1459.9,1102.9 1461.2,1103.1 C1462.5,1103.2 1463.9,1103.4 1465.2,1103.5 C1466.5,1103.7 1467.9,1103.8 1469.2,1104.0 C1470.5,1104.1 1471.9,1104.2 1473.2,1104.3 C1474.5,1104.5 1475.9,1104.6 1477.2,1104.7 C1478.5,1104.8 1479.9,1104.9 1481.2,1105.0 C1482.5,1105.1 1483.9,1105.2 1485.2,1105.3 C1486.5,1105.4 1487.9,1105.4 1489.2,1105.5 C1490.5,1105.6 1491.9,1105.7 1493.2,1105.7 C1494.5,1105.8 1495.9,1105.8 1497.2,1105.9 C1498.5,1106.0 1499.9,1106.0 1501.2,1106.1 C1502.5,1106.1 1503.9,1106.1 1505.2,1106.2 C1506.5,1106.2 1507.9,1106.3 1509.2,1106.3 C1510.5,1106.3 1511.9,1106.3 1513.2,1106.4 C1514.5,1106.4 1515.9,1106.4 1517.2,1106.4 C1518.5,1106.4 1519.9,1106.4 1521.2,1106.4 C1522.5,1106.4 1523.9,1106.4 1525.2,1106.4 C1526.5,1106.4 1527.9,1106.4 1529.2,1106.4 C1530.5,1106.4 1531.9,1106.4 1533.2,1106.4 C1534.5,1106.4 1535.9,1106.4 1537.2,1106.3 C1538.5,1106.3 1539.9,1106.3 1541.2,1106.3 C1542.5,1106.3 1543.9,1106.2 1545.2,1106.2 C1546.5,1106.2 1547.9,1106.1 1549.2,1106.1 C1550.5,1106.1 1551.9,1106.0 1553.2,1106.0 C1554.5,1106.0 1555.9,1105.9 1557.2,1105.9 C1558.5,1105.8 1559.9,1105.8 1561.2,1105.8 C1562.5,1105.7 1563.9,1105.7 1565.2,1105.6 C1566.5,1105.6 1567.9,1105.5 1569.2,1105.5 C1570.5,1105.4 1571.9,1105.3 1573.2,1105.3 C1574.5,1105.2 1575.9,1105.1 1577.2,1105.1 C1578.5,1105.0 1579.9,1104.9 1581.2,1104.8 C1582.5,1104.7 1583.9,1104.6 1585.2,1104.5 C1586.5,1104.4 1587.9,1104.3 1589.2,1104.2 C1590.5,1104.1 1591.9,1104.0 1593.2,1103.8 C1594.5,1103.7 1595.9,1103.5 1597.2,1103.4 C1598.5,1103.2 1599.9,1103.1 1601.2,1102.9 C1602.5,1102.7 1603.9,1102.6 1605.2,1102.4 C1606.5,1102.2 1607.9,1102.0 1609.2,1101.8 C1610.5,1101.6 1611.9,1101.3 1613.2,1101.1 C1614.5,1100.9 1615.9,1100.6 1617.2,1100.3 C1618.5,1100.1 1619.9,1099.8 1621.2,1099.5 C1622.5,1099.2 1623.9,1098.9 1625.2,1098.6 C1626.5,1098.3 1627.9,1098.0 1629.2,1097.6 C1630.5,1097.3 1631.9,1096.9 1633.2,1096.5 C1634.5,1096.1 1635.9,1095.7 1637.2,1095.3 C1638.5,1094.9 1639.9,1094.5 1641.2,1094.1 C1642.5,1093.6 1643.9,1093.2 1645.2,1092.7 C1646.5,1092.3 1647.9,1091.8 1649.2,1091.3 C1650.5,1090.8 1651.9,1090.4 1653.2,1089.8 C1654.5,1089.3 1655.9,1088.8 1657.2,1088.3 C1658.5,1087.8 1659.9,1087.2 1661.2,1086.7 C1662.5,1086.1 1663.9,1085.6 1665.2,1085.0 C1666.5,1084.4 1667.9,1083.9 1669.2,1083.3 C1670.5,1082.7 1671.9,1082.1 1673.2,1081.5 C1674.5,1080.9 1675.9,1080.3 1677.2,1079.7 C1678.5,1079.1 1679.9,1078.5 1681.2,1077.8 C1682.5,1077.2 1683.9,1076.6 1685.2,1075.9 C1686.5,1075.3 1687.9,1074.6 1689.2,1074.0 C1690.5,1073.3 1691.9,1072.7 1693.2,1072.0 C1694.5,1071.4 1695.9,1070.7 1697.2,1070.0 C1698.5,1069.4 1699.9,1068.7 1701.2,1068.0 C1702.5,1067.4 1703.9,1066.7 1705.2,1066.0 C1706.5,1065.3 1707.9,1064.6 1709.2,1064.0 C1710.5,1063.3 1711.9,1062.6 1713.2,1061.9 C1714.5,1061.2 1715.9,1060.6 1717.2,1059.9 C1718.5,1059.2 1719.9,1058.5 1721.2,1057.9 C1722.5,1057.2 1723.9,1056.5 1725.2,1055.9 C1726.5,1055.2 1727.9,1054.5 1729.2,1053.9 C1730.5,1053.2 1731.9,1052.6 1733.2,1051.9 C1734.5,1051.3 1735.9,1050.7 1737.2,1050.0 C1738.5,1049.4 1739.9,1048.8 1741.2,1048.2 C1742.5,1047.6 1743.9,1047.0 1745.2,1046.4 C1746.5,1045.8 1747.9,1045.2 1749.2,1044.6 C1750.5,1044.1 1751.9,1043.5 1753.2,1043.0 C1754.5,1042.4 1755.9,1041.9 1757.2,1041.4 C1758.5,1040.9 1759.9,1040.4 1761.2,1039.9 C1762.5,1039.4 1763.9,1038.9 1765.2,1038.5 C1766.5,1038.0 1767.9,1037.6 1769.2,1037.1 C1770.5,1036.7 1771.9,1036.3 1773.2,1035.9 C1774.5,1035.6 1775.9,1035.2 1777.2,1034.8 C1778.5,1034.5 1779.9,1034.2 1781.2,1033.9 C1782.5,1033.6 1783.9,1033.3 1785.2,1033.0 C1786.5,1032.8 1787.9,1032.5 1789.2,1032.3 C1790.5,1032.1 1791.9,1031.9 1793.2,1031.7 C1794.5,1031.5 1795.9,1031.4 1797.2,1031.2 C1798.5,1031.1 1799.9,1031.0 1801.2,1030.9 C1802.5,1030.8 1803.9,1030.7 1805.2,1030.6 C1806.5,1030.6 1807.9,1030.5 1809.2,1030.5 C1810.5,1030.4 1811.9,1030.4 1813.2,1030.4 C1814.5,1030.4 1815.9,1030.4 1817.2,1030.4 C1818.5,1030.4 1819.9,1030.4 1821.2,1030.4 C1822.5,1030.5 1823.9,1030.5 1825.2,1030.5 C1826.5,1030.6 1827.9,1030.6 1829.2,1030.7 C1830.5,1030.7 1831.9,1030.8 1833.2,1030.9 C1834.5,1030.9 1835.9,1031.0 1837.2,1031.1 C1838.5,1031.2 1839.9,1031.2 1841.2,1031.3 C1842.5,1031.4 1843.9,1031.5 1845.2,1031.5 C1846.5,1031.6 1847.9,1031.7 1849.2,1031.8 C1850.5,1031.8 1851.9,1031.9 1853.2,1032.0 C1854.5,1032.0 1855.9,1032.1 1857.2,1032.2 C1858.5,1032.2 1859.9,1032.3 1861.2,1032.3 C1862.5,1032.4 1863.9,1032.4 1865.2,1032.4 C1866.5,1032.5 1867.9,1032.5 1869.2,1032.5 C1870.5,1032.5 1871.9,1032.5 1873.2,1032.5 C1874.5,1032.5 1875.9,1032.5 1877.2,1032.4 C1878.5,1032.4 1879.9,1032.3 1881.2,1032.3 C1882.5,1032.2 1883.9,1032.2 1885.2,1032.1 C1886.5,1032.0 1887.9,1031.9 1889.2,1031.8 C1890.5,1031.8 1891.9,1031.6 1893.2,1031.5 C1894.5,1031.4 1895.9,1031.3 1897.2,1031.2 C1898.5,1031.0 1899.9,1030.9 1901.2,1030.8 C1902.5,1030.6 1903.9,1030.5 1905.2,1030.3 C1906.5,1030.1 1907.9,1030.0 1909.2,1029.8 C1910.5,1029.6 1911.9,1029.4 1913.2,1029.3 C1914.5,1029.1 1915.9,1028.9 1917.2,1028.7 C1918.5,1028.5 1919.9,1028.3 1921.2,1028.1 C1922.5,1027.9 1923.9,1027.6 1925.2,1027.4 C1926.5,1027.2 1927.9,1027.0 1929.2,1026.8 C1930.5,1026.5 1931.9,1026.3 1933.2,1026.1 C1934.5,1025.8 1935.9,1025.6 1937.2,1025.3 C1938.5,1025.1 1939.9,1024.8 1941.2,1024.6 C1942.5,1024.3 1943.9,1024.1 1945.2,1023.8 C1946.5,1023.6 1947.9,1023.3 1949.2,1023.1 C1950.5,1022.8 1951.9,1022.6 1953.2,1022.3 C1954.5,1022.0 1955.9,1021.8 1957.2,1021.5 C1958.5,1021.3 1959.9,1021.0 1961.2,1020.7 C1962.5,1020.5 1963.9,1020.2 1965.2,1019.9 C1966.5,1019.7 1967.9,1019.4 1969.2,1019.2 C1970.5,1018.9 1971.9,1018.6 1973.2,1018.4 C1974.5,1018.1 1975.9,1017.9 1977.2,1017.6 C1978.5,1017.4 1979.9,1017.1 1981.2,1016.9 C1982.5,1016.6 1983.9,1016.4 1985.2,1016.1 C1986.5,1015.9 1987.9,1015.6 1989.2,1015.4 C1990.5,1015.2 1991.9,1014.9 1993.2,1014.7 C1994.5,1014.5 1995.9,1014.2 1997.2,1014.0 C1998.5,1013.8 1999.9,1013.6 2001.2,1013.3 C2002.5,1013.1 2003.9,1012.9 2005.2,1012.7 C2006.5,1012.5 2007.9,1012.2 2009.2,1012.0 C2010.5,1011.8 2011.9,1011.6 2013.2,1011.4 C2014.5,1011.1 2015.9,1010.9 2017.2,1010.7 C2018.5,1010.5 2019.9,1010.2 2021.2,1010.0 C2022.5,1009.8 2023.9,1009.6 2025.2,1009.3 C2026.5,1009.1 2027.9,1008.9 2029.2,1008.6 C2030.5,1008.4 2031.9,1008.2 2033.2,1007.9 C2034.5,1007.7 2035.9,1007.4 2037.2,1007.2 C2038.5,1006.9 2039.9,1006.7 2041.2,1006.4 C2042.5,1006.2 2043.9,1005.9 2045.2,1005.7 C2046.5,1005.4 2047.9,1005.1 2049.2,1004.8 C2050.5,1004.6 2051.9,1004.3 2053.2,1004.0 C2054.5,1003.7 2055.9,1003.4 2057.2,1003.1 C2058.5,1002.8 2059.9,1002.5 2061.2,1002.2 C2062.5,1001.8 2063.9,1001.5 2065.2,1001.2 C2066.5,1000.9 2067.9,1000.5 2069.2,1000.2 C2070.5,999.8 2071.9,999.4 2073.2,999.1 C2074.5,998.7 2075.9,998.3 2077.2,997.9 C2078.5,997.6 2079.9,997.2 2081.2,996.8 C2082.5,996.4 2083.9,995.9 2085.2,995.5 C2086.5,995.1 2087.9,994.7 2089.2,994.3 C2090.5,993.8 2091.9,993.4 2093.2,992.9 C2094.5,992.5 2095.9,992.1 2097.2,991.6 C2098.5,991.2 2099.9,990.7 2101.2,990.3 C2102.5,989.8 2103.9,989.3 2105.2,988.9 C2106.5,988.4 2107.9,988.0 2109.2,987.5 C2110.5,987.0 2111.9,986.6 2113.2,986.1 C2114.5,985.6 2115.9,985.2 2117.2,984.7 C2118.5,984.2 2119.9,983.8 2121.2,983.3 C2122.5,982.9 2123.9,982.4 2125.2,982.0 C2126.5,981.5 2127.9,981.0 2129.2,980.6 C2130.5,980.2 2131.9,979.7 2133.2,979.3 C2134.5,978.8 2135.9,978.4 2137.2,978.0 C2138.5,977.5 2139.9,977.1 2141.2,976.7 C2142.5,976.3 2143.9,975.9 2145.2,975.5 C2146.5,975.1 2147.9,974.7 2149.2,974.3 C2150.5,973.9 2151.9,973.5 2153.2,973.2 C2154.5,972.8 2155.9,972.5 2157.2,972.1 C2158.5,971.8 2159.9,971.4 2161.2,971.1 C2162.5,970.8 2163.9,970.5 2165.2,970.2 C2166.5,969.9 2167.9,969.6 2169.2,969.3 C2170.5,969.1 2171.9,968.8 2173.2,968.6 C2174.5,968.3 2175.9,968.1 2177.2,967.9 C2178.5,967.7 2179.9,967.5 2181.2,967.3 C2182.5,967.1 2183.9,966.9 2185.2,966.8 C2186.5,966.6 2187.9,966.5 2189.2,966.4 C2190.5,966.3 2191.9,966.2 2193.2,966.1 C2194.5,966.0 2195.9,966.0 2197.2,965.9 C2198.5,965.9 2199.9,965.9 2201.2,965.9 C2202.5,965.9 2203.9,965.9 2205.2,966.0 C2206.5,966.0 2207.9,966.1 2209.2,966.2 C2210.5,966.3 2211.9,966.4 2213.2,966.6 C2214.5,966.7 2215.9,966.9 2217.2,967.1 C2218.5,967.3 2219.9,967.5 2221.2,967.7 C2222.5,968.0 2223.9,968.3 2225.2,968.5 C2226.5,968.8 2227.9,969.2 2229.2,969.5 C2230.5,969.9 2231.9,970.3 2233.2,970.7 C2234.5,971.1 2235.9,971.5 2237.2,972.0 C2238.5,972.5 2240.2,973.1 2241.2,973.5 C2242.2,973.9 2242.8,974.1 2243.1,974.3" fill="none" stroke="#0000ff" stroke-width="11" stroke-linecap="round" stroke-linejoin="round"/>
<line x1="392.60" y1="320.30" x2="2243.00" y2="320.30" stroke="#000" stroke-width="10.5" stroke-dasharray="0 21.5105" stroke-linecap="round"/>
<line x1="2242.40" y1="415.10" x2="377.50" y2="415.10" stroke="#000" stroke-width="10" stroke-dasharray="21.6 21.42" stroke-linecap="round"/>
<line x1="2242.00" y1="563.60" x2="377.50" y2="563.60" stroke="#000" stroke-width="10.5" stroke-dasharray="30.5 43.6 0 44.25" stroke-linecap="round"/>
<line x1="392.60" y1="1000.30" x2="2243.00" y2="1000.30" stroke="#00b0f0" stroke-width="10.5" stroke-dasharray="0 21.5105" stroke-linecap="round"/>
<line x1="2241.90" y1="1075.60" x2="377.50" y2="1075.60" stroke="#00b0f0" stroke-width="11" stroke-dasharray="32.3 42.97" stroke-linecap="round"/>
<line x1="2241.60" y1="1148.60" x2="377.50" y2="1148.60" stroke="#00b0f0" stroke-width="7" stroke-dasharray="43.3 27 0 25.9 0 26.5" stroke-linecap="round"/>
<path d="M325.6,75.1 H2359.2 M325.6,1705.3 H2359.2 M355.8,72.1 V1737.7 M2356.2,72.1 V1737.7 M325.6,346.8 H388.0 M325.6,618.5 H388.0 M325.6,890.2 H388.0 M325.6,1161.9 H388.0 M325.6,1433.6 H388.0 M355.8,1651.0 H382.4 M355.8,1596.6 H382.4 M355.8,1542.3 H382.4 M355.8,1487.9 H382.4 M355.8,1379.3 H382.4 M355.8,1324.9 H382.4 M355.8,1270.6 H382.4 M355.8,1216.2 H382.4 M355.8,1107.6 H382.4 M355.8,1053.2 H382.4 M355.8,998.9 H382.4 M355.8,944.5 H382.4 M355.8,835.9 H382.4 M355.8,781.5 H382.4 M355.8,727.2 H382.4 M355.8,672.8 H382.4 M355.8,564.2 H382.4 M355.8,509.8 H382.4 M355.8,455.5 H382.4 M355.8,401.1 H382.4 M355.8,292.5 H382.4 M355.8,238.1 H382.4 M355.8,183.8 H382.4 M355.8,129.4 H382.4 M689.2,1673.5 V1737.7 M1022.6,1673.5 V1737.7 M1356.0,1673.5 V1737.7 M1689.4,1673.5 V1737.7 M2022.8,1673.5 V1737.7 M422.5,1705.3 V1682.6 M489.2,1705.3 V1682.6 M555.8,1705.3 V1682.6 M622.5,1705.3 V1682.6 M755.9,1705.3 V1682.6 M822.6,1705.3 V1682.6 M889.2,1705.3 V1682.6 M955.9,1705.3 V1682.6 M1089.3,1705.3 V1682.6 M1156.0,1705.3 V1682.6 M1222.6,1705.3 V1682.6 M1289.3,1705.3 V1682.6 M1422.7,1705.3 V1682.6 M1489.4,1705.3 V1682.6 M1556.0,1705.3 V1682.6 M1622.7,1705.3 V1682.6 M1756.1,1705.3 V1682.6 M1822.8,1705.3 V1682.6 M1889.4,1705.3 V1682.6 M1956.1,1705.3 V1682.6 M2089.5,1705.3 V1682.6 M2156.2,1705.3 V1682.6 M2222.8,1705.3 V1682.6 M2289.5,1705.3 V1682.6" fill="none" stroke="#000" stroke-width="6" stroke-linecap="butt"/>
<text x="263" y="110.1" font-size="106" text-anchor="end">27</text>
<text x="263" y="381.8" font-size="106" text-anchor="end">25</text>
<text x="263" y="653.5" font-size="106" text-anchor="end">23</text>
<text x="263" y="925.2" font-size="106" text-anchor="end">21</text>
<text x="263" y="1196.9" font-size="106" text-anchor="end">19</text>
<text x="263" y="1468.6" font-size="106" text-anchor="end">17</text>
<text x="263" y="1740.3" font-size="106" text-anchor="end">15</text>
<text x="357.3" y="1866" font-size="106" text-anchor="middle">0</text>
<text x="690.7" y="1866" font-size="106" text-anchor="middle">2</text>
<text x="1024.1" y="1866" font-size="106" text-anchor="middle">4</text>
<text x="1357.5" y="1866" font-size="106" text-anchor="middle">6</text>
<text x="1690.9" y="1866" font-size="106" text-anchor="middle">8</text>
<text x="2024.3" y="1866" font-size="106" text-anchor="middle">10</text>
<text x="2357.7" y="1866" font-size="106" text-anchor="middle">12</text>
<text x="583.8" y="1986.3" font-size="125.6">Location on chip diagonal (mm)</text>
<text transform="translate(120.4,1526.6) rotate(-90)" font-size="125.6">Chip temperature (&#730;C)</text>
<text x="845.5" y="1289.7" font-size="108">300 mL/min</text>
<text x="1627.0" y="1289.7" font-size="108">650 mL/min</text>
<text x="845.5" y="1407.8" font-size="108">UC -300 max</text>
<text x="1627.0" y="1407.8" font-size="108">UC - 650 max</text>
<text x="845.5" y="1526.0" font-size="108">UC - 300 avg</text>
<text x="1627.0" y="1526.0" font-size="108">UC - 650 avg</text>
<text x="845.5" y="1644.2" font-size="108">UC 300 - min</text>
<text x="1627.0" y="1644.2" font-size="108">UC 650 - min</text>
<line x1="722.00" y1="1255.90" x2="835.00" y2="1255.90" stroke="#ff0000" stroke-width="11.5" stroke-dasharray="none" stroke-linecap="round"/>
<line x1="721.60" y1="1374.60" x2="829.60" y2="1374.60" stroke="#000" stroke-width="10.5" stroke-dasharray="0 21.5" stroke-linecap="round"/>
<line x1="721.80" y1="1492.90" x2="829.50" y2="1492.90" stroke="#000" stroke-width="10" stroke-dasharray="21.7 21.3" stroke-linecap="round"/>
<line x1="722.00" y1="1611.00" x2="797.20" y2="1611.00" stroke="#000" stroke-width="10.5" stroke-dasharray="31.5 43.2 0 100" stroke-linecap="round"/>
<line x1="1502.60" y1="1255.90" x2="1614.50" y2="1255.90" stroke="#0000ff" stroke-width="11.5" stroke-dasharray="none" stroke-linecap="round"/>
<line x1="1502.70" y1="1374.10" x2="1610.70" y2="1374.10" stroke="#00b0f0" stroke-width="11" stroke-dasharray="0 21.5" stroke-linecap="round"/>
<line x1="1502.60" y1="1492.40" x2="1609.40" y2="1492.40" stroke="#00b0f0" stroke-width="11.5" stroke-dasharray="32.3 43.9" stroke-linecap="round"/>
<line x1="1502.40" y1="1611.00" x2="1599.90" y2="1611.00" stroke="#00b0f0" stroke-width="7" stroke-dasharray="45 26.3 0 25.7 0 100" stroke-linecap="round"/>
</svg></body></html>
